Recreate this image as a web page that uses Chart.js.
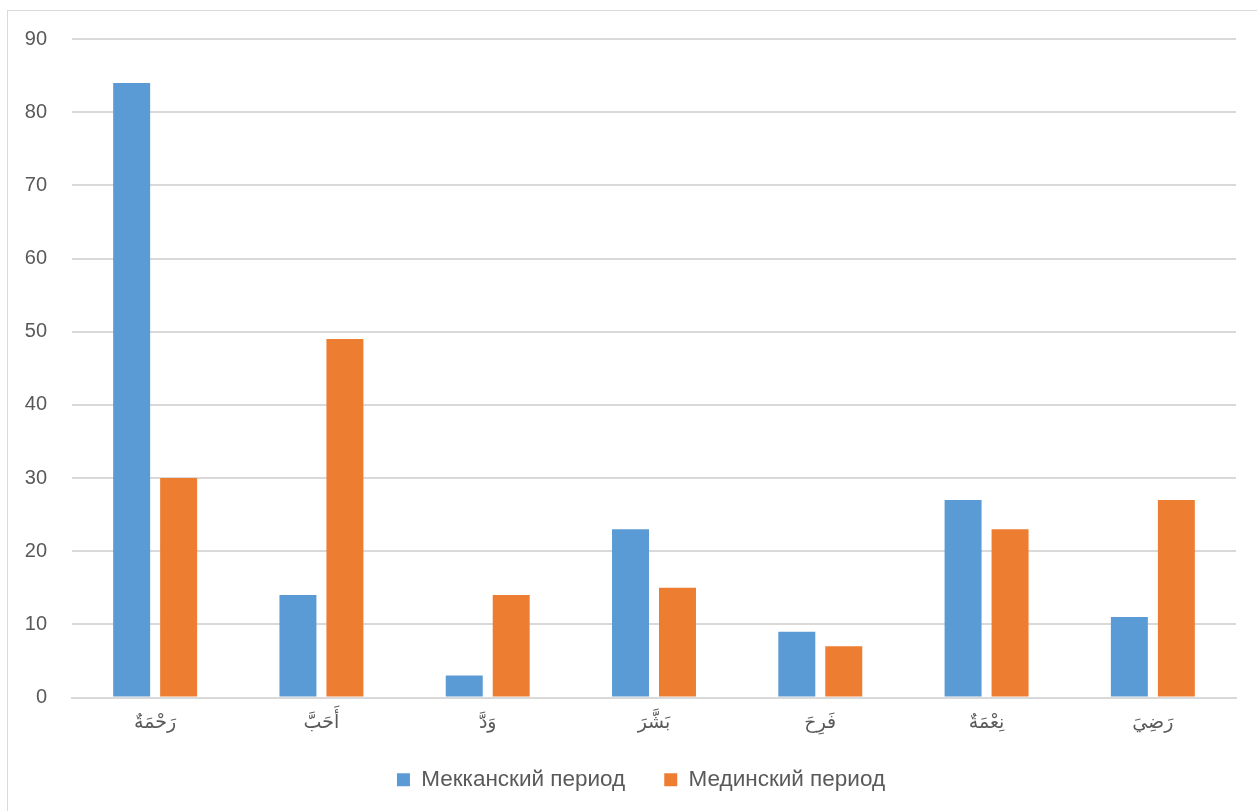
<!DOCTYPE html>
<html>
<head>
<meta charset="utf-8">
<script src="https://cdn.jsdelivr.net/npm/chart.js@4/dist/chart.umd.min.js"></script>
<style>
  html, body { margin: 0; padding: 0; background: #fff; overflow: hidden; }
  body { width: 1257px; height: 811px; position: relative; }
  #frame { position: absolute; left: 7px; top: 10px; width: 1400px; height: 900px;
           border-left: 1px solid #d9d9d9; border-top: 1px solid #d9d9d9; box-sizing: border-box; }
  #wrap { position: absolute; left: 0; top: 0; width: 1257px; height: 811px; }
</style>
</head>
<body>
<div id="frame"></div>
<div id="wrap"><canvas id="c" width="1257" height="811"></canvas></div>
<script>
// Word roots and their occurrence counts by period
const categories = ['رَحْمَةٌ', 'أَحَبَّ', 'وَدَّ', 'بَشَّرَ', 'فَرِحَ', 'نِعْمَةٌ', 'رَضِيَ'];
const meccanValues = [84, 14, 3, 23, 9, 27, 11];
const medinanValues = [30, 49, 14, 15, 7, 23, 27];
const seriesNames = ['Мекканский период', 'Мединский период'];
const yTicks = [0, 10, 20, 30, 40, 50, 60, 70, 80, 90];

const textColor = '#595959';
const gridColor = '#d9d9d9';

// Nudge the legend up toward the axis labels and a bit to the right
const legendNudge = {
  id: 'legendNudge',
  afterLayout(chart) {
    const lg = chart.legend;
    if (lg) {
      lg.top -= 12; lg.bottom -= 12;
      lg.left += 23; lg.right += 23;
    }
  }
};

new Chart(document.getElementById('c'), {
  type: 'bar',
  data: {
    labels: categories,
    datasets: [
      { label: seriesNames[0], data: meccanValues, backgroundColor: '#5b9bd5',
        categoryPercentage: 0.565, barPercentage: 0.787 },
      { label: seriesNames[1], data: medinanValues, backgroundColor: '#ed7d31',
        categoryPercentage: 0.565, barPercentage: 0.787 }
    ]
  },
  plugins: [legendNudge],
  options: {
    responsive: false,
    animation: false,
    devicePixelRatio: 1,
    layout: { padding: { top: 39, right: 21, bottom: -2, left: 0 } },
    plugins: {
      tooltip: { enabled: false },
      legend: {
        position: 'bottom',
        labels: {
          color: textColor,
          font: { family: "'Liberation Sans', 'DejaVu Sans'", size: 22.5 },
          boxWidth: 13, boxHeight: 13, padding: 39
        }
      }
    },
    scales: {
      x: {
        grid: { display: false, drawTicks: false },
        border: { color: gridColor, width: 2 },
        ticks: {
          color: textColor, padding: 14,
          font: { family: "'DejaVu Sans', 'Liberation Sans'", size: 19 }
        },
        afterFit: (s) => { s.height = 44; }
      },
      y: {
        min: 0, max: 90,
        afterBuildTicks: (s) => { s.ticks = yTicks.map(v => ({ value: v })); },
        grid: { color: gridColor, lineWidth: 2, drawTicks: false },
        border: { display: false },
        ticks: {
          color: textColor, padding: 25,
          font: { family: "'Liberation Sans', 'DejaVu Sans'", size: 20 }
        },
        afterFit: (s) => { s.width = 72; }
      }
    }
  }
});
</script>
</body>
</html>
